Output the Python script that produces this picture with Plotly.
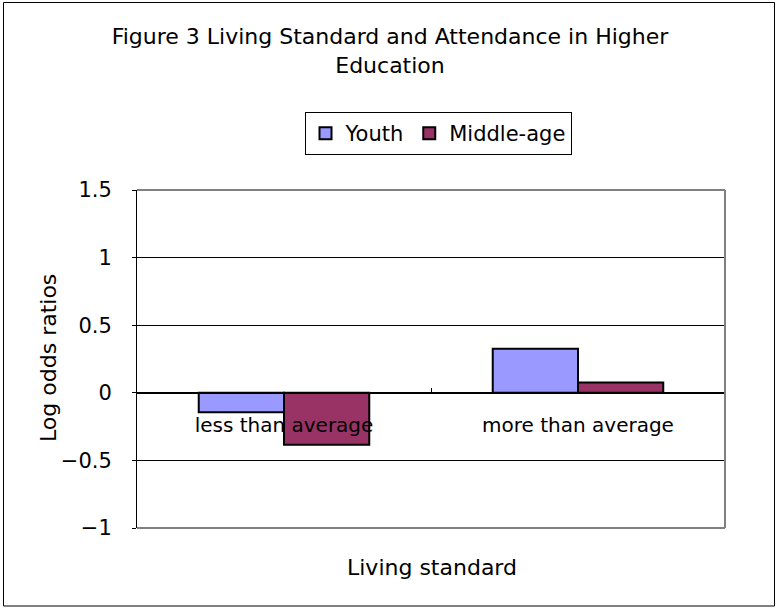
import plotly.graph_objects as go

categories = ["less than average", "more than average"]
youth = [-0.143, 0.325]
middle_age = [-0.385, 0.076]
series_names = ["Youth", "Middle-age"]
y_ticks = [-1, -0.5, 0, 0.5, 1, 1.5]
y_tick_labels = ["−1", "−0.5", "0", "0.5", "1", "1.5"]

FONT = "DejaVu Sans"
W, H = 776, 608
L, R, T, B = 137, 51, 190, 80
PW, PH = W - L - R, H - T - B

def px_x(x):
    return (x - L) / PW

def px_y(y):
    return (H - B - y) / PH

fig = go.Figure()
fig.add_trace(go.Bar(x=categories, y=youth, name=series_names[0],
                     marker=dict(color="#9999FF", line=dict(color="black", width=2))))
fig.add_trace(go.Bar(x=categories, y=middle_age, name=series_names[1],
                     marker=dict(color="#993366", line=dict(color="black", width=2))))

fig.update_layout(
    width=W, height=H,
    margin=dict(l=L, r=R, t=T, b=B, autoexpand=False),
    paper_bgcolor="white", plot_bgcolor="white",
    font=dict(family=FONT, color="black", size=21),
    barmode="group", bargap=0.42, bargroupgap=0,
    title=dict(text="Figure 3 Living Standard and Attendance in Higher<br>Education",
               x=390 / W, xanchor="center", xref="container",
               y=1 - 44 / H, yanchor="top", yref="container",
               font=dict(family=FONT, size=22, color="black")),
    legend=dict(orientation="h", x=px_x(438), xanchor="center",
                y=px_y(112), yanchor="top",
                bordercolor="black", borderwidth=1, bgcolor="white",
                font=dict(family=FONT, size=21), itemwidth=30,
                tracegroupgap=0),
    showlegend=True,
)

fig.update_xaxes(
    type="category", anchor="free", position=0.4,
    showline=True, linecolor="black", linewidth=1,
    ticks="inside", ticklen=5, tickcolor="black", tickson="boundaries",
    showgrid=False, zeroline=False,
    tickfont=dict(family=FONT, size=20, color="black"),
    ticklabelstandoff=14,
)
fig.update_yaxes(
    range=[-1, 1.5], tickvals=y_ticks, ticktext=y_tick_labels,
    showline=True, linecolor="black", linewidth=1,
    ticks="outside", ticklen=4, tickcolor="black",
    showgrid=True, gridcolor="black", gridwidth=1,
    zeroline=False,
    tickfont=dict(family=FONT, size=21, color="black"),
    ticklabelstandoff=16,
)

# plot area border (grey on top/right/bottom)
for x0, y0, x1, y1 in [(0, 1, 1, 1), (1, 0, 1, 1), (0, 0, 1, 0)]:
    fig.add_shape(type="line", xref="paper", yref="paper", x0=x0, y0=y0, x1=x1, y1=y1,
                  line=dict(color="#808080", width=2), layer="above")

# outer chart border
fig.add_shape(type="rect", xref="paper", yref="paper",
              x0=px_x(3.5), x1=px_x(774.5), y0=px_y(606), y1=px_y(2.5),
              line=dict(color="black", width=1), layer="below")

fig.add_annotation(text="Log odds ratios", xref="paper", yref="paper",
                   x=px_x(48), y=px_y(358), textangle=-90, showarrow=False,
                   font=dict(family=FONT, size=22, color="black"),
                   xanchor="center", yanchor="middle")
fig.add_annotation(text="Living standard", xref="paper", yref="paper",
                   x=px_x(432), y=px_y(567), showarrow=False,
                   font=dict(family=FONT, size=22, color="black"),
                   xanchor="center", yanchor="middle")

fig.write_html("out.html", config={"displayModeBar": False},
               post_script="document.body.style.margin='0px';")
